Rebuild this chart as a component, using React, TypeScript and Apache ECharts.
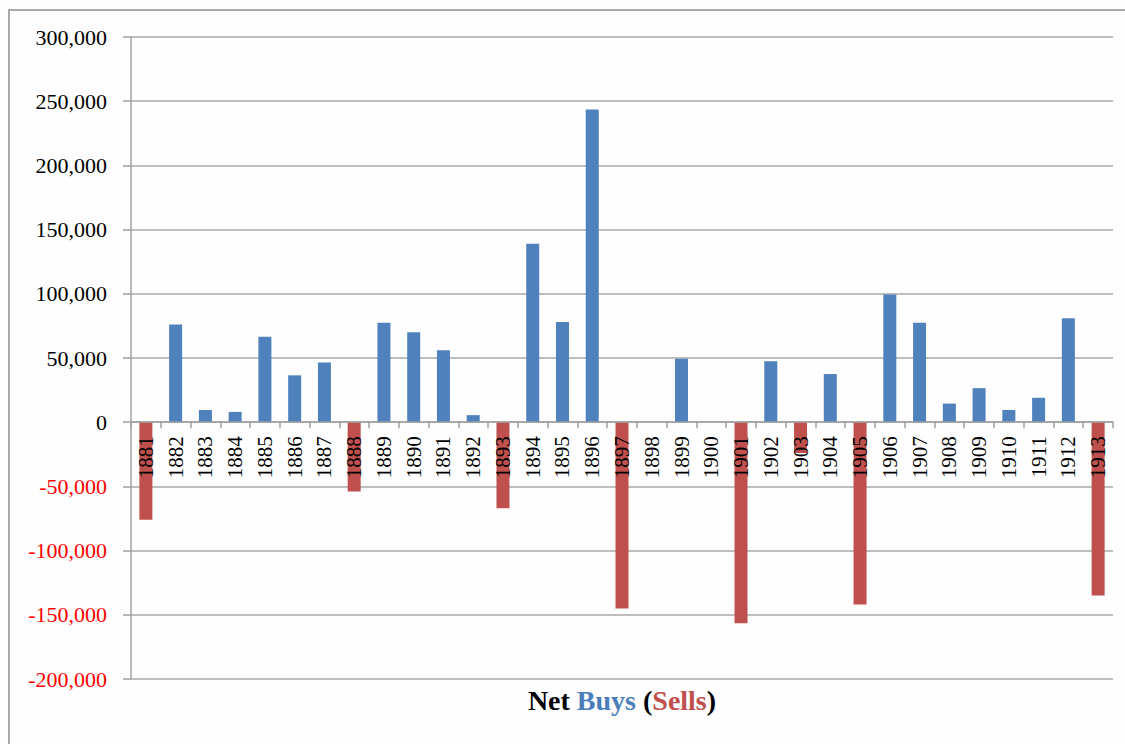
import React, { useEffect, useRef } from "react";
import * as echarts from "echarts";

// Net purchases (positive) and net sales (negative) per year
const years = [
  "1881", "1882", "1883", "1884", "1885", "1886", "1887", "1888", "1889", "1890",
  "1891", "1892", "1893", "1894", "1895", "1896", "1897", "1898", "1899", "1900",
  "1901", "1902", "1903", "1904", "1905", "1906", "1907", "1908", "1909", "1910",
  "1911", "1912", "1913",
];

const netValues = [
  -76000, 76000, 9500, 8000, 66500, 36500, 46500, -54000, 77500, 70000,
  56000, 5500, -67000, 139000, 78000, 243500, -145000, 0, 49500, 0,
  -156500, 47500, -24000, 37500, -142000, 99500, 77500, 14500, 26500, 9500,
  19000, 81000, -135000,
];

const yTicks = { min: -200000, max: 300000, step: 50000 };

const BUY_COLOR = "#4f81bd";
const SELL_COLOR = "#c0504d";
const SERIF = "'Liberation Serif', 'Times New Roman', serif";

const CHART_W = 1125;
const CHART_H = 744;
const GRID = { left: 131, right: 12, top: 37, bottom: 65 };

export default function App() {
  const ref = useRef<HTMLDivElement>(null);

  useEffect(() => {
    document.body.style.margin = "0";
    if (!ref.current) return;
    const chart = echarts.init(ref.current, undefined, { renderer: "svg" });

    // Shift the category axis (line, ticks and labels) up to the zero line.
    const plotH = CHART_H - GRID.top - GRID.bottom;
    const zeroOffset = -plotH * ((0 - yTicks.min) / (yTicks.max - yTicks.min));

    const NBSP = "\u00a0";

    chart.setOption({
      animation: false,
      backgroundColor: "#fefefe",
      grid: { ...GRID, containLabel: false },
      xAxis: {
        type: "category",
        data: years,
        z: 3,
        offset: zeroOffset,
        axisLine: { show: true, onZero: false, lineStyle: { color: "#a0a0a0", width: 1.5 } },
        axisTick: { show: true, length: 6, lineStyle: { color: "#a0a0a0", width: 1.5 } },
        axisLabel: {
          rotate: 90,
          margin: 14,
          interval: 0,
          fontFamily: SERIF,
          fontSize: 21,
          color: "#000",
        },
        splitLine: { show: false },
      },
      yAxis: {
        type: "value",
        min: yTicks.min,
        max: yTicks.max,
        interval: yTicks.step,
        axisLine: { show: true, lineStyle: { color: "#a0a0a0", width: 1.5 } },
        axisTick: { show: true, length: 8, lineStyle: { color: "#a0a0a0", width: 1.5 } },
        axisLabel: {
          margin: 24,
          fontFamily: SERIF,
          fontSize: 22,
          color: (v: any) => (Number(v) < 0 ? "#ff0000" : "#000000"),
          formatter: (v: number) => v.toLocaleString("en-US"),
        },
        splitLine: { show: true, lineStyle: { color: "#a8a8a8", width: 1.5 } },
      },
      series: [
        {
          type: "bar",
          data: netValues,
          barWidth: 13,
          itemStyle: {
            color: (p: any) => (p.value >= 0 ? BUY_COLOR : SELL_COLOR),
          },
        },
      ],
      graphic: [
        {
          type: "rect",
          shape: { x: 9, y: 10, width: 1200, height: 800 },
          style: { fill: "none", stroke: "#8c8c8c", lineWidth: 1.5 },
          silent: true,
        },
        {
          type: "text",
          x: 622,
          y: 700,
          style: {
            text: `{k|Net${NBSP}}{b|Buys${NBSP}}{k|(}{s|Sells}{k|)}`,
            align: "center",
            verticalAlign: "middle",
            rich: {
              k: { fontFamily: SERIF, fontSize: 28, fontWeight: "bold", fill: "#000000", color: "#000000" },
              b: { fontFamily: SERIF, fontSize: 28, fontWeight: "bold", fill: "#4a7ebb", color: "#4a7ebb" },
              s: { fontFamily: SERIF, fontSize: 28, fontWeight: "bold", fill: "#c0504d", color: "#c0504d" },
            },
          },
        },
      ],
    });

    return () => chart.dispose();
  }, []);

  return <div ref={ref} style={{ width: CHART_W, height: CHART_H }} />;
}
